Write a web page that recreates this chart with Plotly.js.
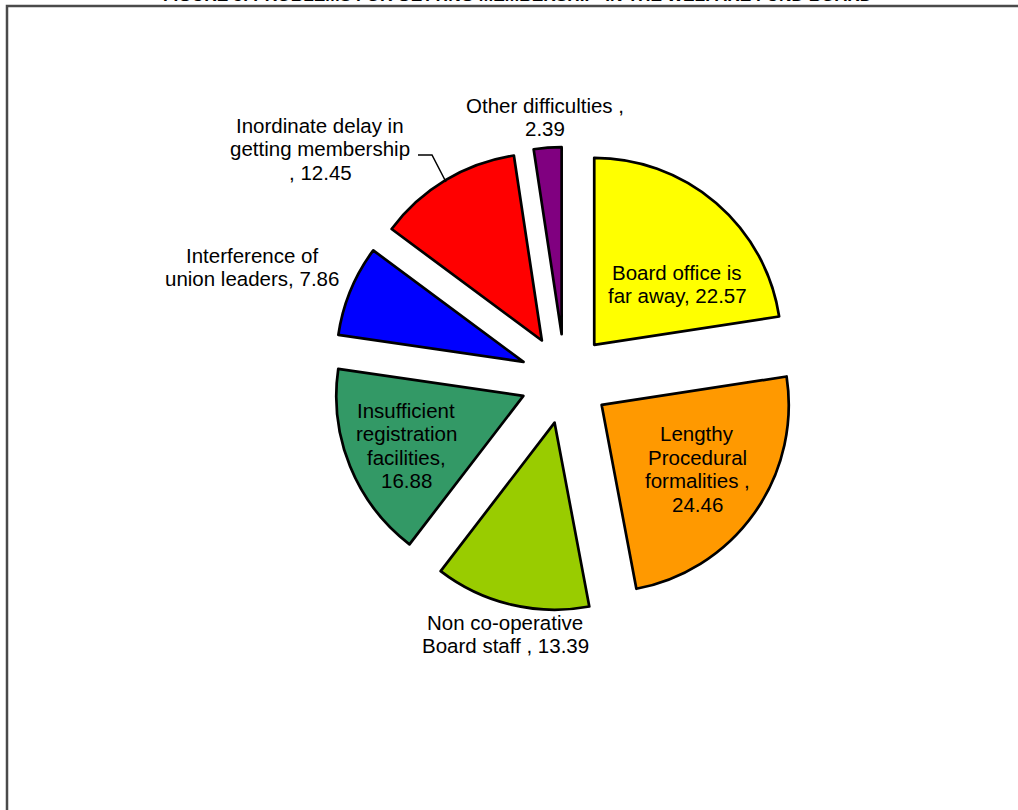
<!DOCTYPE html>
<html>
<head>
<meta charset="utf-8">
<script src="https://cdn.plot.ly/plotly-3.0.1.min.js"></script>
<style>html,body{margin:0;padding:0;background:#fff;}#chart{width:1018px;height:810px;}</style>
</head>
<body>
<div id="chart"></div>
<script>
// ---- data ----
var categories = [
  "Board office is far away",
  "Lengthy Procedural formalities",
  "Non co-operative Board staff",
  "Insufficient registration facilities",
  "Interference of union leaders",
  "Inordinate delay in getting membership",
  "Other difficulties"
];
var values = [22.57, 24.46, 13.39, 16.88, 7.86, 12.45, 2.39];
// label lines as printed on the chart
var labelLines = [
  ["Board office is", "far away, 22.57"],
  ["Lengthy", "Procedural", "formalities ,", "24.46"],
  ["Non co-operative", "Board staff , 13.39"],
  ["Insufficient", "registration", "facilities,", "16.88"],
  ["Interference of", "union leaders, 7.86"],
  ["Inordinate delay in", "getting membership", ", 12.45"],
  ["Other difficulties ,", "2.39"]
];
var chartTitle = "FIGURE 5: PROBLEMS FOR GETTING MEMBERSHIP  IN THE WELFARE FUND BOARD";

// ---- styling / layout ----
var W = 1018, H = 810;
var colors = ["#FFFF00", "#FF9900", "#99CC00", "#339966", "#0000FF", "#FF0000", "#800080"];
function px(x) { return x / W; }
function py(y) { return 1 - y / H; }

// label block anchors (pixel centre of first line) and line step
var labelPos = [
  [677, 272], [697, 434], [505, 622], [406, 410], [252, 255], [320, 125], [545, 105]
];
var lineStep = 23.5;

var annotations = [];
labelLines.forEach(function (lines, i) {
  lines.forEach(function (t, j) {
    annotations.push({
      xref: "paper", yref: "paper",
      x: px(labelPos[i][0]), y: py(labelPos[i][1] + j * lineStep),
      xanchor: "center", yanchor: "middle",
      text: t, showarrow: false,
      font: {family: "Liberation Sans, Arial, sans-serif", size: 20.5, color: "#000"}
    });
  });
});
annotations.push({
  xref: "paper", yref: "paper", x: px(517), y: py(-5),
  xanchor: "center", yanchor: "middle", showarrow: false,
  text: "<b>" + chartTitle + "</b>",
  font: {family: "Liberation Sans, Arial, sans-serif", size: 17.3, color: "#000"}
});

function pathPx(pts) {
  return pts.map(function (p, k) { return (k ? "L" : "M") + px(p[0]) + "," + py(p[1]); }).join(" ");
}

var shapes = [
  {type: "path", xref: "paper", yref: "paper", path: pathPx([[7, 815], [7, 6], [1020, 6]]),
   line: {color: "#4a4a4a", width: 2.5}},
  {type: "path", xref: "paper", yref: "paper", path: pathPx([[418, 155], [432, 155], [446, 182]]),
   line: {color: "#000", width: 1.5}}
];

var trace = {
  type: "pie",
  labels: categories,
  values: values,
  sort: false,
  direction: "clockwise",
  rotation: 0,
  pull: values.map(function () { return 0.24; }),
  textinfo: "none",
  hoverinfo: "none",
  marker: {colors: colors, line: {color: "#000", width: 2.7}},
  domain: {x: [px(333), px(797)], y: [py(611), py(147)]},
  showlegend: false
};

var layout = {
  width: W, height: H,
  margin: {l: 0, r: 0, t: 0, b: 0},
  paper_bgcolor: "#ffffff",
  plot_bgcolor: "#ffffff",
  showlegend: false,
  annotations: annotations,
  shapes: shapes
};

Plotly.newPlot("chart", [trace], layout, {displayModeBar: false, staticPlot: true});
</script>
</body>
</html>
